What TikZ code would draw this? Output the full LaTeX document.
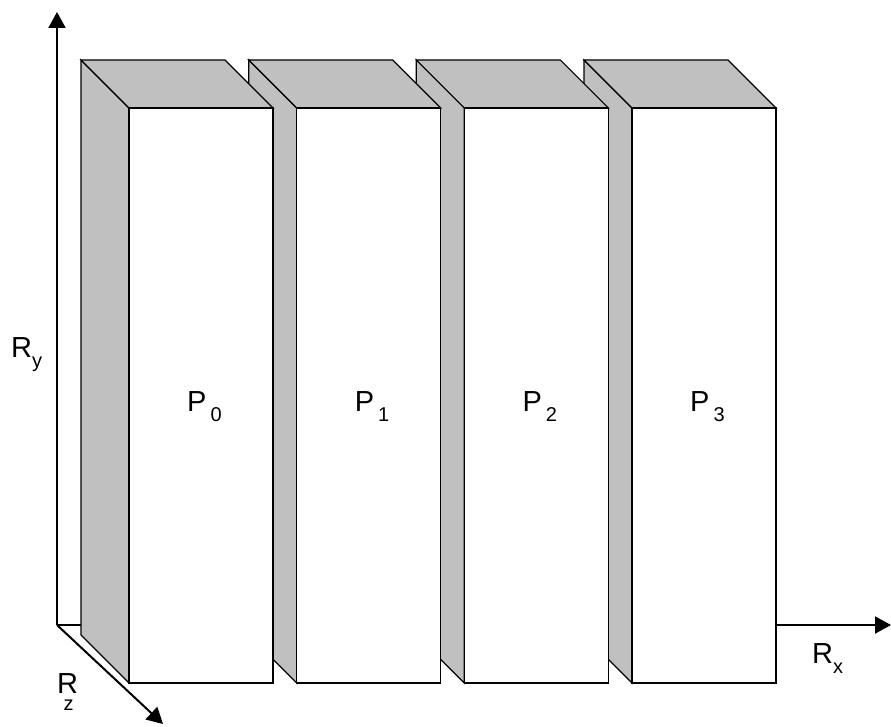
\documentclass[tikz,border=0pt]{standalone}
\usepackage{fontspec}
\setmainfont{Liberation Sans}
\usetikzlibrary{arrows.meta}
\newcommand{\subtxt}[2]{#1\raisebox{-0.36em}{\fontsize{20}{20}\selectfont #2}}
\tikzset{
  axis/.style={line width=2pt,-{Triangle[length=16pt,width=17pt]}},
  side/.style={draw=black,line width=1.2pt,fill=lightgray,line join=miter},
  front/.style={draw=black,line width=1.2pt,fill=white},
  lbl/.style={font=\fontsize{29}{32}\selectfont,inner sep=0pt}
}
\begin{document}
\begin{tikzpicture}[x=1pt,y=-1pt]
\definecolor{lightgray}{HTML}{C0C0C0}
\useasboundingbox (0,0) rectangle (891,727);
\coordinate (O) at (57,625);
\coordinate (Ytip) at (57,12);
\coordinate (Xtip) at (891,625);
\coordinate (Ztip) at (163,724);
\draw[axis] (O) -- (Ytip);
\draw[axis] (O) -- (Xtip);
\draw[axis] (O) -- (Ztip);
\foreach \i in {3,2,1,0}{
  \pgfmathsetmacro{\bx}{81+167.67*\i}
  \draw[side] (\bx,60) -- (\bx+48,108) -- (\bx+48,683) -- (\bx,635) -- cycle;
  \draw[side] (\bx,60) -- (\bx+144,60) -- (\bx+192,108) -- (\bx+48,108) -- cycle;
  \draw[front] (\bx+48,108) rectangle (\bx+192,683);
  \node[lbl,anchor=base west] (P\i) at (\bx+106,411) {\subtxt{P}{\kern0.2em\i}};
}
\node[lbl,anchor=base west] (Ry) at (11,357) {\subtxt{R}{y}};
\node[lbl,anchor=base west] (Rx) at (812,663) {\subtxt{R}{x}};
\node[lbl,anchor=base west] (Rz) at (57,693) {R\kern-0.5em\raisebox{-0.62em}{\fontsize{20}{20}\selectfont z}};
\end{tikzpicture}
\end{document}
